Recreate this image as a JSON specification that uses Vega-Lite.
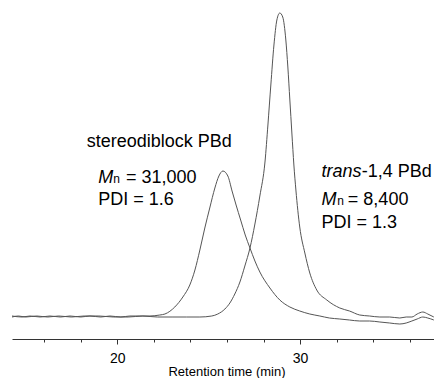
{
  "$schema": "https://vega.github.io/schema/vega-lite/v6.json",
  "width": 422,
  "height": 339,
  "autosize": {"type": "none"},
  "padding": {"left": 12, "top": 0, "right": 0, "bottom": 39},
  "background": "white",
  "config": {"view": {"stroke": null}, "font": "Liberation Sans"},
  "datasets": {
    "curves": [
      {"t": 14.25, "v": 23, "sample": "stereodiblock"},
      {"t": 14.8, "v": 22, "sample": "stereodiblock"},
      {"t": 15.23, "v": 23, "sample": "stereodiblock"},
      {"t": 15.8, "v": 22, "sample": "stereodiblock"},
      {"t": 16.32, "v": 23, "sample": "stereodiblock"},
      {"t": 16.9, "v": 22, "sample": "stereodiblock"},
      {"t": 17.42, "v": 23, "sample": "stereodiblock"},
      {"t": 18.0, "v": 22, "sample": "stereodiblock"},
      {"t": 18.51, "v": 23, "sample": "stereodiblock"},
      {"t": 19.1, "v": 22, "sample": "stereodiblock"},
      {"t": 19.6, "v": 23, "sample": "stereodiblock"},
      {"t": 20.2, "v": 22, "sample": "stereodiblock"},
      {"t": 20.69, "v": 23, "sample": "stereodiblock"},
      {"t": 21.2, "v": 23, "sample": "stereodiblock"},
      {"t": 21.79, "v": 23, "sample": "stereodiblock"},
      {"t": 22.33, "v": 24, "sample": "stereodiblock"},
      {"t": 22.61, "v": 25, "sample": "stereodiblock"},
      {"t": 23.15, "v": 32, "sample": "stereodiblock"},
      {"t": 23.59, "v": 42, "sample": "stereodiblock"},
      {"t": 23.97, "v": 54, "sample": "stereodiblock"},
      {"t": 24.25, "v": 69, "sample": "stereodiblock"},
      {"t": 24.52, "v": 89, "sample": "stereodiblock"},
      {"t": 24.79, "v": 111, "sample": "stereodiblock"},
      {"t": 25.06, "v": 131, "sample": "stereodiblock"},
      {"t": 25.34, "v": 151, "sample": "stereodiblock"},
      {"t": 25.56, "v": 163, "sample": "stereodiblock"},
      {"t": 25.78, "v": 168, "sample": "stereodiblock"},
      {"t": 26.05, "v": 163, "sample": "stereodiblock"},
      {"t": 26.28, "v": 148, "sample": "stereodiblock"},
      {"t": 26.5, "v": 134, "sample": "stereodiblock"},
      {"t": 26.75, "v": 119, "sample": "stereodiblock"},
      {"t": 27.0, "v": 104, "sample": "stereodiblock"},
      {"t": 27.26, "v": 91, "sample": "stereodiblock"},
      {"t": 27.53, "v": 78, "sample": "stereodiblock"},
      {"t": 27.8, "v": 67, "sample": "stereodiblock"},
      {"t": 28.35, "v": 51, "sample": "stereodiblock"},
      {"t": 28.89, "v": 39, "sample": "stereodiblock"},
      {"t": 29.44, "v": 32, "sample": "stereodiblock"},
      {"t": 29.98, "v": 28, "sample": "stereodiblock"},
      {"t": 30.53, "v": 25, "sample": "stereodiblock"},
      {"t": 31.08, "v": 23, "sample": "stereodiblock"},
      {"t": 31.6, "v": 21, "sample": "stereodiblock"},
      {"t": 32.17, "v": 20, "sample": "stereodiblock"},
      {"t": 32.7, "v": 19, "sample": "stereodiblock"},
      {"t": 33.26, "v": 18, "sample": "stereodiblock"},
      {"t": 33.8, "v": 18, "sample": "stereodiblock"},
      {"t": 34.36, "v": 17, "sample": "stereodiblock"},
      {"t": 34.9, "v": 16, "sample": "stereodiblock"},
      {"t": 35.45, "v": 15, "sample": "stereodiblock"},
      {"t": 35.8, "v": 16, "sample": "stereodiblock"},
      {"t": 36.11, "v": 18, "sample": "stereodiblock"},
      {"t": 36.4, "v": 20, "sample": "stereodiblock"},
      {"t": 36.71, "v": 22, "sample": "stereodiblock"},
      {"t": 36.98, "v": 21, "sample": "stereodiblock"},
      {"t": 37.31, "v": 19, "sample": "stereodiblock"},

      {"t": 14.25, "v": 22, "sample": "trans"},
      {"t": 14.6, "v": 23, "sample": "trans"},
      {"t": 15.0, "v": 22, "sample": "trans"},
      {"t": 15.6, "v": 23, "sample": "trans"},
      {"t": 16.2, "v": 22, "sample": "trans"},
      {"t": 16.8, "v": 23, "sample": "trans"},
      {"t": 17.5, "v": 22, "sample": "trans"},
      {"t": 18.2, "v": 23, "sample": "trans"},
      {"t": 19.0, "v": 23, "sample": "trans"},
      {"t": 19.8, "v": 22, "sample": "trans"},
      {"t": 20.6, "v": 22, "sample": "trans"},
      {"t": 21.4, "v": 23, "sample": "trans"},
      {"t": 22.2, "v": 22, "sample": "trans"},
      {"t": 23.0, "v": 22, "sample": "trans"},
      {"t": 23.8, "v": 22, "sample": "trans"},
      {"t": 24.52, "v": 22, "sample": "trans"},
      {"t": 25.17, "v": 23, "sample": "trans"},
      {"t": 25.5, "v": 25, "sample": "trans"},
      {"t": 25.89, "v": 30, "sample": "trans"},
      {"t": 26.16, "v": 36, "sample": "trans"},
      {"t": 26.43, "v": 45, "sample": "trans"},
      {"t": 26.71, "v": 57, "sample": "trans"},
      {"t": 26.98, "v": 73, "sample": "trans"},
      {"t": 27.26, "v": 91, "sample": "trans"},
      {"t": 27.53, "v": 115, "sample": "trans"},
      {"t": 27.8, "v": 143, "sample": "trans"},
      {"t": 28.08, "v": 177, "sample": "trans"},
      {"t": 28.24, "v": 214, "sample": "trans"},
      {"t": 28.4, "v": 254, "sample": "trans"},
      {"t": 28.57, "v": 294, "sample": "trans"},
      {"t": 28.73, "v": 319, "sample": "trans"},
      {"t": 28.89, "v": 326, "sample": "trans"},
      {"t": 29.05, "v": 322, "sample": "trans"},
      {"t": 29.22, "v": 299, "sample": "trans"},
      {"t": 29.33, "v": 272, "sample": "trans"},
      {"t": 29.44, "v": 239, "sample": "trans"},
      {"t": 29.55, "v": 206, "sample": "trans"},
      {"t": 29.66, "v": 174, "sample": "trans"},
      {"t": 29.77, "v": 149, "sample": "trans"},
      {"t": 29.98, "v": 112, "sample": "trans"},
      {"t": 30.26, "v": 86, "sample": "trans"},
      {"t": 30.53, "v": 66, "sample": "trans"},
      {"t": 30.91, "v": 49, "sample": "trans"},
      {"t": 31.46, "v": 39, "sample": "trans"},
      {"t": 32.17, "v": 31, "sample": "trans"},
      {"t": 32.7, "v": 28, "sample": "trans"},
      {"t": 33.26, "v": 24, "sample": "trans"},
      {"t": 33.8, "v": 23, "sample": "trans"},
      {"t": 34.36, "v": 22, "sample": "trans"},
      {"t": 34.9, "v": 22, "sample": "trans"},
      {"t": 35.45, "v": 21, "sample": "trans"},
      {"t": 35.8, "v": 22, "sample": "trans"},
      {"t": 36.11, "v": 22, "sample": "trans"},
      {"t": 36.4, "v": 25, "sample": "trans"},
      {"t": 36.71, "v": 27, "sample": "trans"},
      {"t": 36.98, "v": 25, "sample": "trans"},
      {"t": 37.31, "v": 22, "sample": "trans"}
    ],
    "plainText": [
      {"t": 18.33, "v": 192.3, "text": "stereodiblock PBd"},
      {"t": 20.48, "v": 155.7, "text": "= 31,000"},
      {"t": 18.96, "v": 133.7, "text": "PDI = 1.6"},
      {"t": 33.37, "v": 162.3, "text": "-1,4 PBd"},
      {"t": 32.61, "v": 134, "text": "= 8,400"},
      {"t": 31.17, "v": 110.7, "text": "PDI = 1.3"}
    ],
    "italicText": [
      {"t": 18.96, "v": 155.7, "text": "M"},
      {"t": 31.17, "v": 162.3, "text": "trans"},
      {"t": 31.17, "v": 134, "text": "M"}
    ],
    "subText": [
      {"t": 19.79, "v": 155.7, "text": "n"},
      {"t": 32.03, "v": 134, "text": "n"}
    ]
  },
  "layer": [
    {
      "data": {"name": "curves"},
      "mark": {"type": "line", "color": "#555555", "strokeWidth": 1, "interpolate": "monotone"},
      "encoding": {
        "x": {
          "field": "t", "type": "quantitative",
          "scale": {"domain": [14.25, 37.32], "nice": false, "zero": false},
          "axis": {
            "title": "Retention time (min)",
            "values": [16, 18, 20, 22, 24, 26, 28, 30, 32, 34, 36],
            "labelExpr": "datum.value == 20 || datum.value == 30 ? datum.label : ''",
            "grid": false,
            "domainColor": "#333333",
            "tickColor": "#333333",
            "tickSize": {"condition": {"test": "datum.value == 20 || datum.value == 30", "value": 5}, "value": 3},
            "labelFont": "Liberation Sans",
            "labelFontSize": 14,
            "labelColor": "#000000",
            "labelPadding": 7,
            "titleFont": "Liberation Sans",
            "titleFontSize": 13,
            "titleFontWeight": "normal",
            "titleColor": "#000000",
            "titleBaseline": "alphabetic",
            "titleY": 36,
            "titleX": 214.5
          }
        },
        "y": {
          "field": "v", "type": "quantitative",
          "scale": {"domain": [0, 339], "nice": false, "zero": false},
          "axis": null
        },
        "detail": {"field": "sample", "type": "nominal"}
      }
    },
    {
      "data": {"name": "plainText"},
      "mark": {"type": "text", "align": "left", "baseline": "alphabetic", "font": "Liberation Sans", "fontSize": 18, "color": "#000000"},
      "encoding": {
        "x": {"field": "t", "type": "quantitative"},
        "y": {"field": "v", "type": "quantitative"},
        "text": {"field": "text"}
      }
    },
    {
      "data": {"name": "italicText"},
      "mark": {"type": "text", "align": "left", "baseline": "alphabetic", "font": "Liberation Sans", "fontSize": 18, "fontStyle": "italic", "color": "#000000"},
      "encoding": {
        "x": {"field": "t", "type": "quantitative"},
        "y": {"field": "v", "type": "quantitative"},
        "text": {"field": "text"}
      }
    },
    {
      "data": {"name": "subText"},
      "mark": {"type": "text", "align": "left", "baseline": "alphabetic", "font": "Liberation Sans", "fontSize": 12, "color": "#000000"},
      "encoding": {
        "x": {"field": "t", "type": "quantitative"},
        "y": {"field": "v", "type": "quantitative"},
        "text": {"field": "text"}
      }
    }
  ]
}
